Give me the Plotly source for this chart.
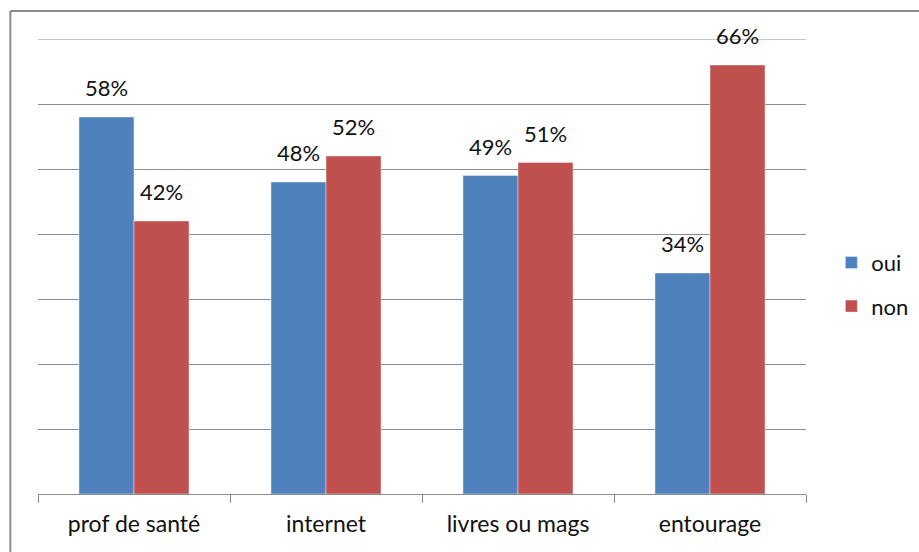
import plotly.graph_objects as go

categories = ["prof de santé", "internet", "livres ou mags", "entourage"]
oui = [58, 48, 49, 34]
non = [42, 52, 51, 66]

BLUE = "#4F81BD"
RED = "#C0504D"
GRID = "#8C8C8C"
FONT = "Lato, 'Open Sans', sans-serif"

fig = go.Figure()
fig.add_trace(go.Bar(name="oui", x=categories, y=oui, marker_color=BLUE,
                     legendgroup="a"))
fig.add_trace(go.Bar(name="non", x=categories, y=non, marker_color=RED,
                     legendgroup="b"))

# value labels above each bar, offset half a bar width either side of the category
annotations = []
for vals, shift in ((oui, -27.5), (non, 27.5)):
    for cat, v in zip(categories, vals):
        annotations.append(dict(
            x=cat, y=v, xref="x", yref="y", text=f"{v}%", showarrow=False,
            xshift=shift, yanchor="bottom", yshift=14,
            font=dict(family=FONT, size=22, color="#111111")))

fig.update_layout(
    width=919, height=552,
    margin=dict(l=38, r=113, t=39, b=58, autoexpand=False),
    paper_bgcolor="white", plot_bgcolor="white",
    barmode="group", bargap=0.427, bargroupgap=0,
    font=dict(family=FONT, size=22, color="#111111"),
    legend=dict(x=1.033, xanchor="left", y=0.46, yanchor="middle",
                tracegroupgap=12, font=dict(size=22),
                itemclick=False),
    annotations=annotations,
    showlegend=True,
    shapes=[
        # top gridline at the axis maximum
        dict(type="line", xref="paper", yref="y", x0=0, x1=1, y0=70, y1=70,
             line=dict(color=GRID, width=1)),
        # outer chart frame (top and left edges visible)
        dict(type="line", xref="paper", yref="paper", x0=-0.036, x1=1.2,
             y0=1.0615, y1=1.0615, line=dict(color="#8A8A8A", width=2)),
        dict(type="line", xref="paper", yref="paper", x0=-0.036, x1=-0.036,
             y0=1.0615, y1=-0.2, line=dict(color="#8A8A8A", width=2)),
    ],
)

fig.update_xaxes(
    type="category", showline=True, linecolor=GRID, linewidth=1,
    ticks="outside", tickson="boundaries", ticklen=8, tickcolor=GRID,
    tickfont=dict(family=FONT, size=23, color="#111111"),
    ticklabelstandoff=9, showgrid=False,
)
fig.update_yaxes(
    range=[0, 70], dtick=10, showticklabels=False, showgrid=True,
    gridcolor=GRID, gridwidth=1, zeroline=False, showline=False,
)

fig.write_html("out.html")
